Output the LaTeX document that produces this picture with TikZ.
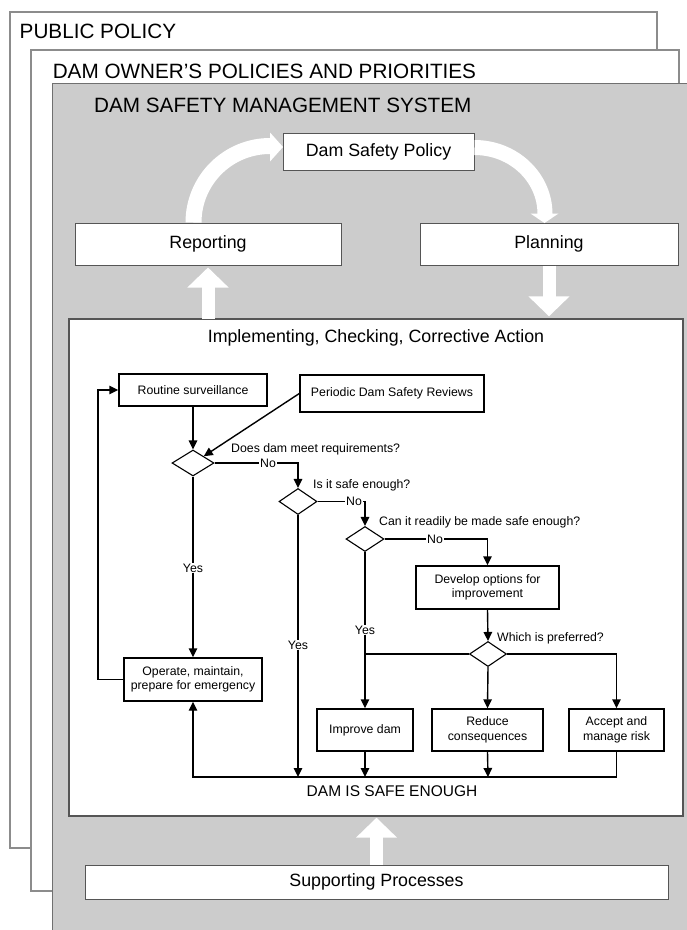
\documentclass[tikz,border=0pt]{standalone}
\usepackage{fontspec}
\setmainfont{Liberation Sans}
\usetikzlibrary{shapes.geometric,arrows.meta}

\definecolor{panelgray}{HTML}{CCCCCC}
\definecolor{frameedge}{HTML}{8C8C8C}
\definecolor{boxedge}{HTML}{555555}

\begin{document}
\begin{tikzpicture}[x=1pt,y=-1pt,
  frame/.style={draw=frameedge, line width=1.1pt, fill=white},
  heading/.style={anchor=base west, inner sep=0, font=\fontsize{20.7}{24}\selectfont},
  stage/.style={draw=boxedge, line width=1pt, fill=white, inner sep=0,
    font=\fontsize{17.8}{21}\selectfont},
  proc/.style={draw=black, line width=1.4pt, fill=white, inner sep=0, align=center,
    font=\fontsize{12.3}{14.6}\selectfont},
  decision/.style={diamond, draw=black, line width=1.1pt, fill=white, inner sep=0},
  question/.style={anchor=west, inner sep=0, font=\fontsize{12.3}{14.6}\selectfont},
  lbl/.style={fill=white, inner sep=1pt, font=\fontsize{12.3}{14.6}\selectfont},
  link/.style={draw=black, line width=1.4pt},
  flow/.style={link, -{Triangle[length=9pt,width=8.5pt]}},
  bigarrow/.style={draw=white, line width=13pt, -{Triangle[length=20pt,width=40pt]}},
  arcarrow/.style={draw=white, line width=16pt},
]
\useasboundingbox (0,0) rectangle (687,930);

% nested policy frames
\filldraw[frame] (10,12) rectangle (657,848);
\node[heading] (ppt) at (19.5,38) {PUBLIC POLICY};
\filldraw[frame] (31,50) rectangle (679,891);
\node[heading] (dot) at (52.6,78) {DAM OWNER’S POLICIES AND PRIORITIES};

% management system panel
\fill[panelgray] (52.6,83.3) rectangle (690,935);
\draw[draw=frameedge!80!black, line width=1.6pt] (690,83.3) -- (52.6,83.3) -- (52.6,935);
\node[heading] (dst) at (94,112) {DAM SAFETY MANAGEMENT SYSTEM};

% cycle of the management system
\node[stage, minimum width=191pt, minimum height=37pt] (policy) at (378.5,151.5) {Dam Safety Policy};
\node[stage, minimum width=266pt, minimum height=42pt] (report) at (208,244) {Reporting};
\node[stage, minimum width=258pt, minimum height=42pt] (plan) at (549,244) {Planning};
\node[draw=boxedge, line width=1.4pt, fill=white, minimum width=614pt, minimum height=497pt, inner sep=0]
  (impl) at (376,567.5) {};
\node[inner sep=0, font=\fontsize{17.8}{21}\selectfont] (implt) at (376,338)
  {Implementing, Checking, Corrective Action};
\node[stage, minimum width=583pt, minimum height=34pt] (support) at (376.5,882) {Supporting Processes};

% white block arrows between the stages
\draw[arcarrow] ([xshift=-14.5pt]report.north) arc[start angle=180, end angle=270, radius=76.5];
\fill[white] (270,132.5) -- (283,147) -- (270,161.5) -- cycle;
\draw[arcarrow, line width=15pt] ([yshift=4pt]policy.east)
  arc[start angle=270, end angle=360, x radius=70.5, y radius=66.5];
\fill[white] (530.5,213.5) -- (558.5,213.5) -- (544.5,223) -- cycle;
\draw[bigarrow] ([yshift=-1pt]report.south |- impl.north) -- ([yshift=-2pt]report.south);
\draw[bigarrow] (plan.south) -- ([yshift=2pt]plan.south |- impl.north);
\draw[bigarrow] (support.north) -- ([yshift=-1pt]support.north |- impl.south);

% flowchart boxes
\node[proc, minimum width=148pt, minimum height=32pt] (routine) at (193,390) {Routine surveillance};
\node[proc, minimum width=184pt, minimum height=37pt] (periodic) at (392,393.5) {Periodic Dam Safety Reviews};
\node[decision, minimum width=42pt, minimum height=26pt] (d1) at (193,463) {};
\node[decision, minimum width=38pt, minimum height=26pt] (d2) at (298,501.5) {};
\node[decision, minimum width=38pt, minimum height=25pt] (d3) at (365,539) {};
\node[proc, minimum width=143pt, minimum height=43pt] (develop) at (487.5,587.5) {Develop options for\\improvement};
\node[decision, minimum width=37pt, minimum height=25pt] (d4) at (488,654) {};
\node[proc, minimum width=138pt, minimum height=43pt] (operate) at (193,679.5) {Operate, maintain,\\prepare for emergency};
\node[proc, minimum width=96pt, minimum height=42pt] (improve) at (365,730) {Improve dam};
\node[proc, minimum width=111pt, minimum height=42pt] (reduce) at (487.5,730) {Reduce\\consequences};
\node[proc, minimum width=95pt, minimum height=42pt] (accept) at (616.5,730) {Accept and\\manage risk};

% questions
\node[question] (q1) at (231,449) {Does dam meet requirements?};
\node[question] (q2) at (313,485) {Is it safe enough?};
\node[question] (q3) at (379,522) {Can it readily be made safe enough?};
\node[question] (q4) at (497,638) {Which is preferred?};

% junction points on the "safe enough" line
\coordinate (j1) at (193,777);
\coordinate (j2) at (298,777);
\coordinate (j3) at (365,777);
\coordinate (j4) at (488,777);
\coordinate (fb) at (98,0);

% connectors
\draw[flow] (routine.south) -- (d1.north);
\draw[flow] (periodic.west) -- (d1.north east);
\draw[flow] (d1.east) -| (d2.north);
\draw[flow] (d2.east) -| (d3.north);
\draw[flow] (d3.east) -| (develop.north);
\draw[flow] (develop.south) -- (d4.north);
\draw[flow] (d1.south) -- (operate.north);
\draw[flow] (d2.south) -- (j2);
\draw[flow] (d3.south) -- (improve.north);
\draw[link] (d4.west) -- (d4.west -| d3.south);
\draw[flow] (d4.south) -- (reduce.north);
\draw[flow] (d4.east) -| (accept.north);
\draw[flow] (improve.south) -- (j3);
\draw[flow] (reduce.south) -- (j4);
\draw[flow] (accept.south) -- (accept.south |- j1) -- (j1) -- (operate.south);
\draw[flow] (operate.west) -- (operate.west -| fb) -- (routine.west -| fb) -- (routine.west);

% branch labels
\node[lbl] (no1) at (268,463) {No};
\node[lbl] (no2) at (354,501.5) {No};
\node[lbl] (no3) at (435,539) {No};
\node[lbl] (yes1) at (193,568) {Yes};
\node[lbl] (yes2) at (298,645) {Yes};
\node[lbl] (yes3) at (365,630) {Yes};

\node[inner sep=0, font=\fontsize{15.5}{18}\selectfont] (safe) at (392,791) {DAM IS SAFE ENOUGH};
\end{tikzpicture}
\end{document}
